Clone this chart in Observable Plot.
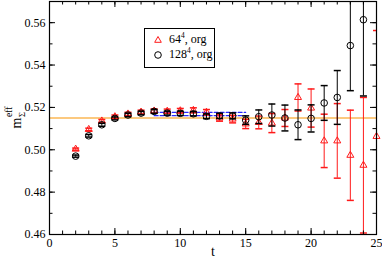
<!DOCTYPE html>
<html>
<head>
<meta charset="utf-8">
<script src="https://cdn.jsdelivr.net/npm/d3@7"></script>
<script src="https://cdn.jsdelivr.net/npm/@observablehq/plot@0.6"></script>
<style>
  html, body { margin: 0; padding: 0; background: #fff; }
  #wrap { position: relative; width: 382px; height: 258px; font-family: "Liberation Serif", "Times New Roman", serif; }
  #legend { position: absolute; left: 144px; top: 28px; width: 71px; height: 40px; box-sizing: border-box;
            border: 1px solid #000; background: #fff; font-size: 12px; color: #000; font-family: "Liberation Serif", "Times New Roman", serif; }
  .row { position: absolute; left: 0; height: 14px; white-space: nowrap; }
  .row svg { position: absolute; left: 7px; top: 0; }
  .row span.lab { position: absolute; left: 24px; top: -1px; line-height: 14px; }
  sup { font-size: 7.5px; vertical-align: 5px; line-height: 0; }
</style>
</head>
<body>
<div id="wrap"><div id="chart"></div>
  <div id="legend">
    <div class="row" style="top:4px"><svg width="12" height="14"><path d="M6,3.5 L9.3,9.3 L2.7,9.3 Z" fill="none" stroke="#ff1a1a" stroke-width="1"/></svg><span class="lab">64<sup>4</sup>, org</span></div>
    <div class="row" style="top:19px"><svg width="12" height="14"><circle cx="6" cy="7" r="3.3" fill="none" stroke="#000" stroke-width="1"/></svg><span class="lab">128<sup>4</sup>, org</span></div>
  </div>
</div>
<script>
// ---- data ----
const t64  = [2,3,4,5,6,7,8,9,10,11,12,13,14,15,16,17,18,19,20,21,22,23,24,25];
const m64  = [0.5003,0.5096,0.5136,0.5156,0.5169,0.5178,0.5183,0.5182,0.5184,0.5186,0.5177,0.5150,0.5145,0.5122,0.5129,0.5126,0.5150,0.5247,0.5197,0.5042,0.5042,0.4974,0.4927,0.5063];
const e64  = [0.0005,0.0006,0.0007,0.0008,0.0008,0.0009,0.0010,0.0010,0.0011,0.0012,0.0013,0.0015,0.0018,0.0022,0.0030,0.0045,0.0040,0.0064,0.0090,0.0126,0.0176,0.0213,0.0320,0.0500];
const t128 = [2,3,4,5,6,7,8,9,10,11,12,13,14,15,16,17,18,19,20,21,22,23,24];
const m128 = [0.4970,0.5066,0.5118,0.5148,0.5164,0.5173,0.5181,0.5173,0.5172,0.5170,0.5158,0.5160,0.5160,0.5140,0.5156,0.5164,0.5150,0.5118,0.5148,0.5221,0.5247,0.5492,0.5614];
const e128 = [0.0005,0.0006,0.0007,0.0007,0.0008,0.0008,0.0009,0.0009,0.0010,0.0010,0.0011,0.0012,0.0014,0.0020,0.0032,0.0052,0.0061,0.0070,0.0064,0.0082,0.0127,0.0213,0.0360];
const plateau = 0.515;
const fitT = [8, 15];
const fitLo = 0.5161, fitHi = 0.5177;
const xMajor = [0,5,10,15,20,25];
const xMinor = d3.range(0, 26, 1);
const yMajor = [0.46,0.48,0.50,0.52,0.54,0.56];
const yMinor = d3.range(46, 58, 1).map(d => d / 100);
const xLabel = "t";

// ---- build ----
const rows64 = t64.map((t, i) => ({t, m: m64[i], lo: m64[i] - e64[i], hi: m64[i] + e64[i]}));
const rows128 = t128.map((t, i) => ({t, m: m128[i], lo: m128[i] - e128[i], hi: m128[i] + e128[i]}));
const fitRows = (v) => fitT.map(t => ({t, v}));

const W = 382, H = 258, mL = 49, mR = 6, mT = 1, mB = 24;
const iw = W - mL - mR, ih = H - mT - mB;
const RED = "#ff1a1a";
const FF = "'Liberation Serif', 'Times New Roman', serif";
const cap = {draw(ctx) { ctx.moveTo(-3.5, 0); ctx.lineTo(3.5, 0); }};
const MAJ = 6, MIN = 3.5;

const chart = Plot.plot({
  width: W, height: H,
  marginLeft: mL, marginRight: mR, marginTop: mT, marginBottom: mB,
  style: {fontFamily: FF, fontSize: "11px", background: "white", overflow: "visible"},
  x: {domain: [0, 25], axis: null},
  y: {domain: [0.46, 0.57], axis: null},
  marks: [
    Plot.ruleY([plateau], {stroke: "#fcc97f", strokeWidth: 2}),
    Plot.line(fitRows(fitHi), {x: "t", y: "v", stroke: "#2b2bff", strokeWidth: 1.2, strokeDasharray: "4,2"}),
    Plot.line(fitRows(fitLo), {x: "t", y: "v", stroke: "#2b2bff", strokeWidth: 1.2, strokeDasharray: "4,2"}),
    // 64^4
    Plot.ruleX(rows64, {x: "t", y1: "lo", y2: "hi", stroke: RED, strokeWidth: 1, clip: true}),
    Plot.dot(rows64, {x: "t", y: "lo", symbol: cap, r: 3, stroke: RED, fill: "none", clip: true}),
    Plot.dot(rows64, {x: "t", y: "hi", symbol: cap, r: 3, stroke: RED, fill: "none", clip: true}),
    Plot.dot(rows64, {x: "t", y: "m", symbol: "triangle", r: 2.6, stroke: RED, fill: "none", strokeWidth: 1}),
    // 128^4
    Plot.ruleX(rows128, {x: "t", y1: "lo", y2: "hi", stroke: "#000", strokeWidth: 1, clip: true}),
    Plot.dot(rows128, {x: "t", y: "lo", symbol: cap, r: 3, stroke: "#000", fill: "none", clip: true}),
    Plot.dot(rows128, {x: "t", y: "hi", symbol: cap, r: 3, stroke: "#000", fill: "none", clip: true}),
    Plot.dot(rows128, {x: "t", y: "m", symbol: "circle", r: 3.3, stroke: "#000", fill: "none", strokeWidth: 1}),
    // inward ticks, all four sides
    Plot.tickX(xMinor, {x: d => d, insetTop: ih - MIN}),
    Plot.tickX(xMajor, {x: d => d, insetTop: ih - MAJ}),
    Plot.tickX(xMinor, {x: d => d, insetBottom: ih - MIN}),
    Plot.tickX(xMajor, {x: d => d, insetBottom: ih - MAJ}),
    Plot.tickY(yMinor, {y: d => d, insetRight: iw - MIN}),
    Plot.tickY(yMajor, {y: d => d, insetRight: iw - MAJ}),
    Plot.tickY(yMinor, {y: d => d, insetLeft: iw - MIN}),
    Plot.tickY(yMajor, {y: d => d, insetLeft: iw - MAJ}),
    Plot.frame({stroke: "#000", strokeWidth: 1.2}),
    // tick labels
    Plot.text(xMajor, {x: d => d, frameAnchor: "bottom", lineAnchor: "top", dy: 4, text: d => String(d), fontSize: 12, fontFamily: FF, fill: "#000"}),
    Plot.text(yMajor, {y: d => d, frameAnchor: "left", textAnchor: "end", dx: -4, text: d => d3.format(".2f")(d), fontSize: 12, fontFamily: FF, fill: "#000"}),
    // axis labels
    Plot.text([xLabel], {frameAnchor: "bottom", lineAnchor: "bottom", dy: 21, text: d => d, fontSize: 14, fontFamily: FF, fill: "#000"}),
    Plot.text(["m"], {frameAnchor: "left", rotate: -90, textAnchor: "start", lineAnchor: "bottom", dx: -29, dy: 10.5, text: d => d, fontSize: 14, fontFamily: FF, fill: "#000"}),
    Plot.text(["Σ"], {frameAnchor: "left", rotate: -90, textAnchor: "start", lineAnchor: "bottom", dx: -25, dy: -1, text: d => d, fontSize: 8.5, fontFamily: FF, fill: "#000"}),
    Plot.text(["eff"], {frameAnchor: "left", rotate: -90, textAnchor: "start", lineAnchor: "bottom", dx: -38, dy: -1, text: d => d, fontSize: 9.5, fontFamily: FF, fill: "#000"})
  ]
});
document.getElementById("chart").appendChild(chart);
</script>
</body>
</html>
